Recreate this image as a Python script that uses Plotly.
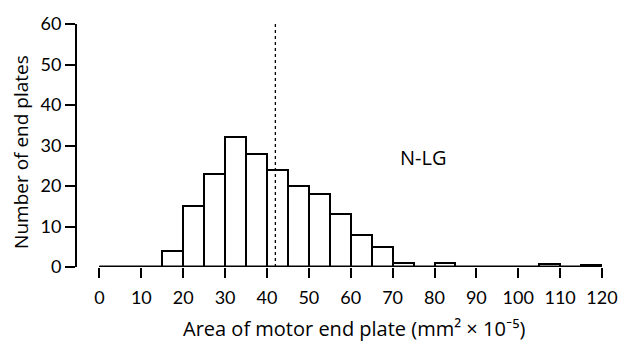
import plotly.graph_objects as go

bin_left = list(range(0, 120, 5))
bin_width = 5
counts = [0, 0, 0, 4, 15, 23, 32, 28, 24, 20, 18, 13, 8, 5, 1, 0, 1, 0, 0, 0, 0, 0.7, 0, 0.6]
x_ticks = list(range(0, 121, 10))
y_ticks = list(range(0, 61, 10))
mean_line = 42
label_text = "N-LG"
x_title = "Area of motor end plate (mm² × 10⁻⁵)"
y_title = "Number of end plates"

FONT = "Lato, 'Open Sans', sans-serif"
TFONT = "'Open Sans', Lato, sans-serif"

centers = [b + bin_width / 2 for b in bin_left]

fig = go.Figure()
fig.add_trace(go.Bar(
    x=centers, y=counts, width=[bin_width] * len(centers),
    marker=dict(color="white", line=dict(color="black", width=2)),
    showlegend=False, hoverinfo="skip",
))

# x baseline (axis line from 0 to 120)
fig.add_shape(type="line", xref="x", yref="y", x0=0, x1=120, y0=0, y1=0,
              line=dict(color="black", width=3))
# dotted mean line
fig.add_shape(type="line", xref="x", yref="y", x0=mean_line, x1=mean_line, y0=0, y1=60,
              line=dict(color="black", width=1.3, dash="dot"))

fig.add_annotation(x=77.3, y=27.0, xref="x", yref="y", text=label_text, showarrow=False,
                   font=dict(size=20, color="black", family=TFONT))

# axis titles
fig.add_annotation(x=0.527, y=-0.255, xref="paper", yref="paper", text=x_title,
                   showarrow=False, xanchor="center", yanchor="middle",
                   font=dict(size=20, color="black", family=TFONT))
fig.add_annotation(x=-0.108, y=0.475, xref="paper", yref="paper", text=y_title,
                   showarrow=False, xanchor="center", yanchor="middle", textangle=-90,
                   font=dict(size=19, color="black", family=TFONT))

fig.update_layout(
    width=630, height=350,
    margin=dict(l=77, r=16, t=16, b=83),
    plot_bgcolor="white", paper_bgcolor="white",
    font=dict(family=FONT, size=18, color="black"),
    bargap=0,
    xaxis=dict(range=[-5.37, 120], tickvals=x_ticks, ticks="outside", ticklen=10,
               tickwidth=2, tickcolor="black", showline=False, showgrid=False,
               zeroline=False, tickfont=dict(size=18), ticklabelstandoff=4),
    yaxis=dict(range=[0, 60], tickvals=y_ticks, ticks="outside", ticklen=10,
               tickwidth=2, tickcolor="black", showline=True, linecolor="black",
               linewidth=2, showgrid=False, zeroline=False, tickfont=dict(size=18)),
)

fig.write_html("out.html")
